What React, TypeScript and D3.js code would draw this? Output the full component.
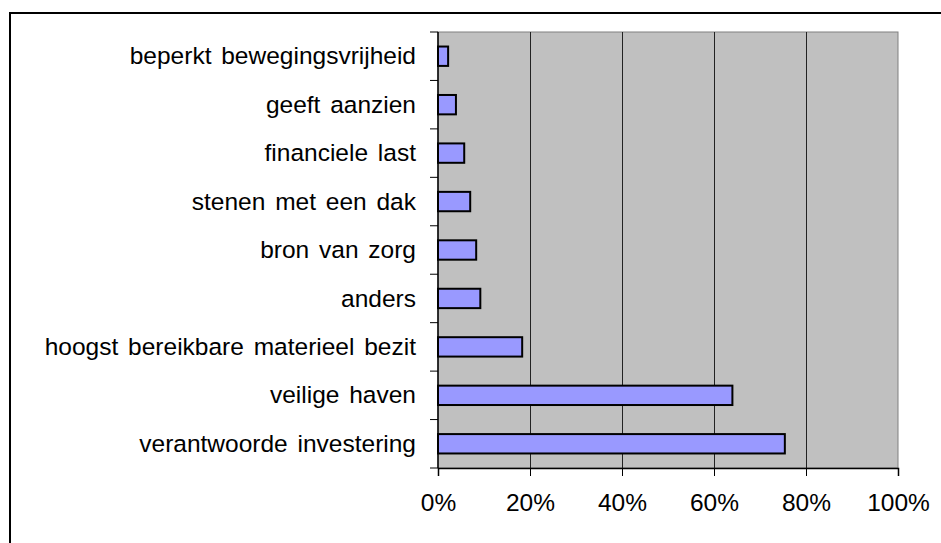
import * as React from "react";
import * as d3 from "d3";

const categories = [
  "beperkt bewegingsvrijheid",
  "geeft aanzien",
  "financiele last",
  "stenen met een dak",
  "bron van zorg",
  "anders",
  "hoogst bereikbare materieel bezit",
  "veilige haven",
  "verantwoorde investering",
];
const values = [0.022, 0.039, 0.057, 0.07, 0.083, 0.092, 0.183, 0.64, 0.754];
const xTicks = [0, 0.2, 0.4, 0.6, 0.8, 1];

const FONT = "'Liberation Sans', Arial, sans-serif";

export default function App() {
  const ref = React.useRef<SVGSVGElement | null>(null);

  React.useEffect(() => {
    const svg = d3.select(ref.current);
    svg.selectAll("*").remove();

    const plot = { left: 438, right: 898, top: 32, bottom: 468 };

    const x = d3.scaleLinear().domain([0, 1]).range([plot.left, plot.right]);
    const y = d3
      .scaleBand()
      .domain(categories)
      .range([plot.top, plot.bottom])
      .paddingInner(0.6)
      .paddingOuter(0.3);

    // outer chart frame (runs off the picture on the right and bottom)
    svg.append("rect")
      .attr("x", 10).attr("y", 13)
      .attr("width", 1000).attr("height", 1000)
      .attr("fill", "white")
      .attr("stroke", "black")
      .attr("stroke-width", 2);

    // plot area
    svg.append("rect")
      .attr("x", plot.left).attr("y", plot.top)
      .attr("width", plot.right - plot.left)
      .attr("height", plot.bottom - plot.top)
      .attr("fill", "#c0c0c0")
      .attr("stroke", "#808080")
      .attr("stroke-width", 1);

    // gridlines
    svg.append("g")
      .selectAll("line")
      .data(xTicks.slice(1, -1))
      .enter()
      .append("line")
      .attr("x1", d => Math.round(x(d)) + 0.5)
      .attr("x2", d => Math.round(x(d)) + 0.5)
      .attr("y1", plot.top)
      .attr("y2", plot.bottom)
      .attr("stroke", "#222")
      .attr("stroke-width", 1);

    // bars
    svg.append("g")
      .selectAll("rect")
      .data(categories)
      .enter()
      .append("rect")
      .attr("x", x(0))
      .attr("y", d => y(d) as number)
      .attr("width", (d, i) => x(values[i]) - x(0))
      .attr("height", y.bandwidth())
      .attr("fill", "#9999ff")
      .attr("stroke", "black")
      .attr("stroke-width", 2);

    // x axis
    const xAxis = d3.axisBottom(x)
      .tickValues(xTicks)
      .tickSize(8)
      .tickPadding(18)
      .tickFormat(d => d3.format(".0%")(d as number));
    const gx = svg.append("g")
      .attr("transform", "translate(0," + plot.bottom + ")")
      .call(xAxis);
    gx.select(".domain").attr("stroke", "black").attr("stroke-width", 1.5);
    gx.selectAll(".tick line").attr("stroke", "black");
    gx.selectAll(".tick text")
      .attr("fill", "black")
      .style("font-family", FONT)
      .style("font-size", "24.5px");

    // y axis: ticks between categories, labels centred in bands
    const bounds = d3.range(categories.length + 1).map(
      i => plot.top + (i * (plot.bottom - plot.top)) / categories.length
    );
    svg.append("g")
      .selectAll("line")
      .data(bounds)
      .enter()
      .append("line")
      .attr("x1", plot.left - 8)
      .attr("x2", plot.left)
      .attr("y1", d => d)
      .attr("y2", d => d)
      .attr("stroke", "black");
    svg.append("line")
      .attr("x1", plot.left).attr("x2", plot.left)
      .attr("y1", plot.top).attr("y2", plot.bottom)
      .attr("stroke", "black")
      .attr("stroke-width", 1.5);

    svg.append("g")
      .selectAll("text")
      .data(categories)
      .enter()
      .append("text")
      .attr("x", 416)
      .attr("y", d => (y(d) as number) + y.bandwidth() / 2)
      .attr("dy", "0.33em")
      .attr("text-anchor", "end")
      .style("font-family", FONT)
      .style("font-size", "24.5px")
      .style("word-spacing", "3px")
      .text(d => d);
  }, []);

  return (
    <svg
      ref={ref}
      width={941}
      height={543}
      style={{ position: "absolute", left: 0, top: 0, background: "white" }}
    />
  );
}
